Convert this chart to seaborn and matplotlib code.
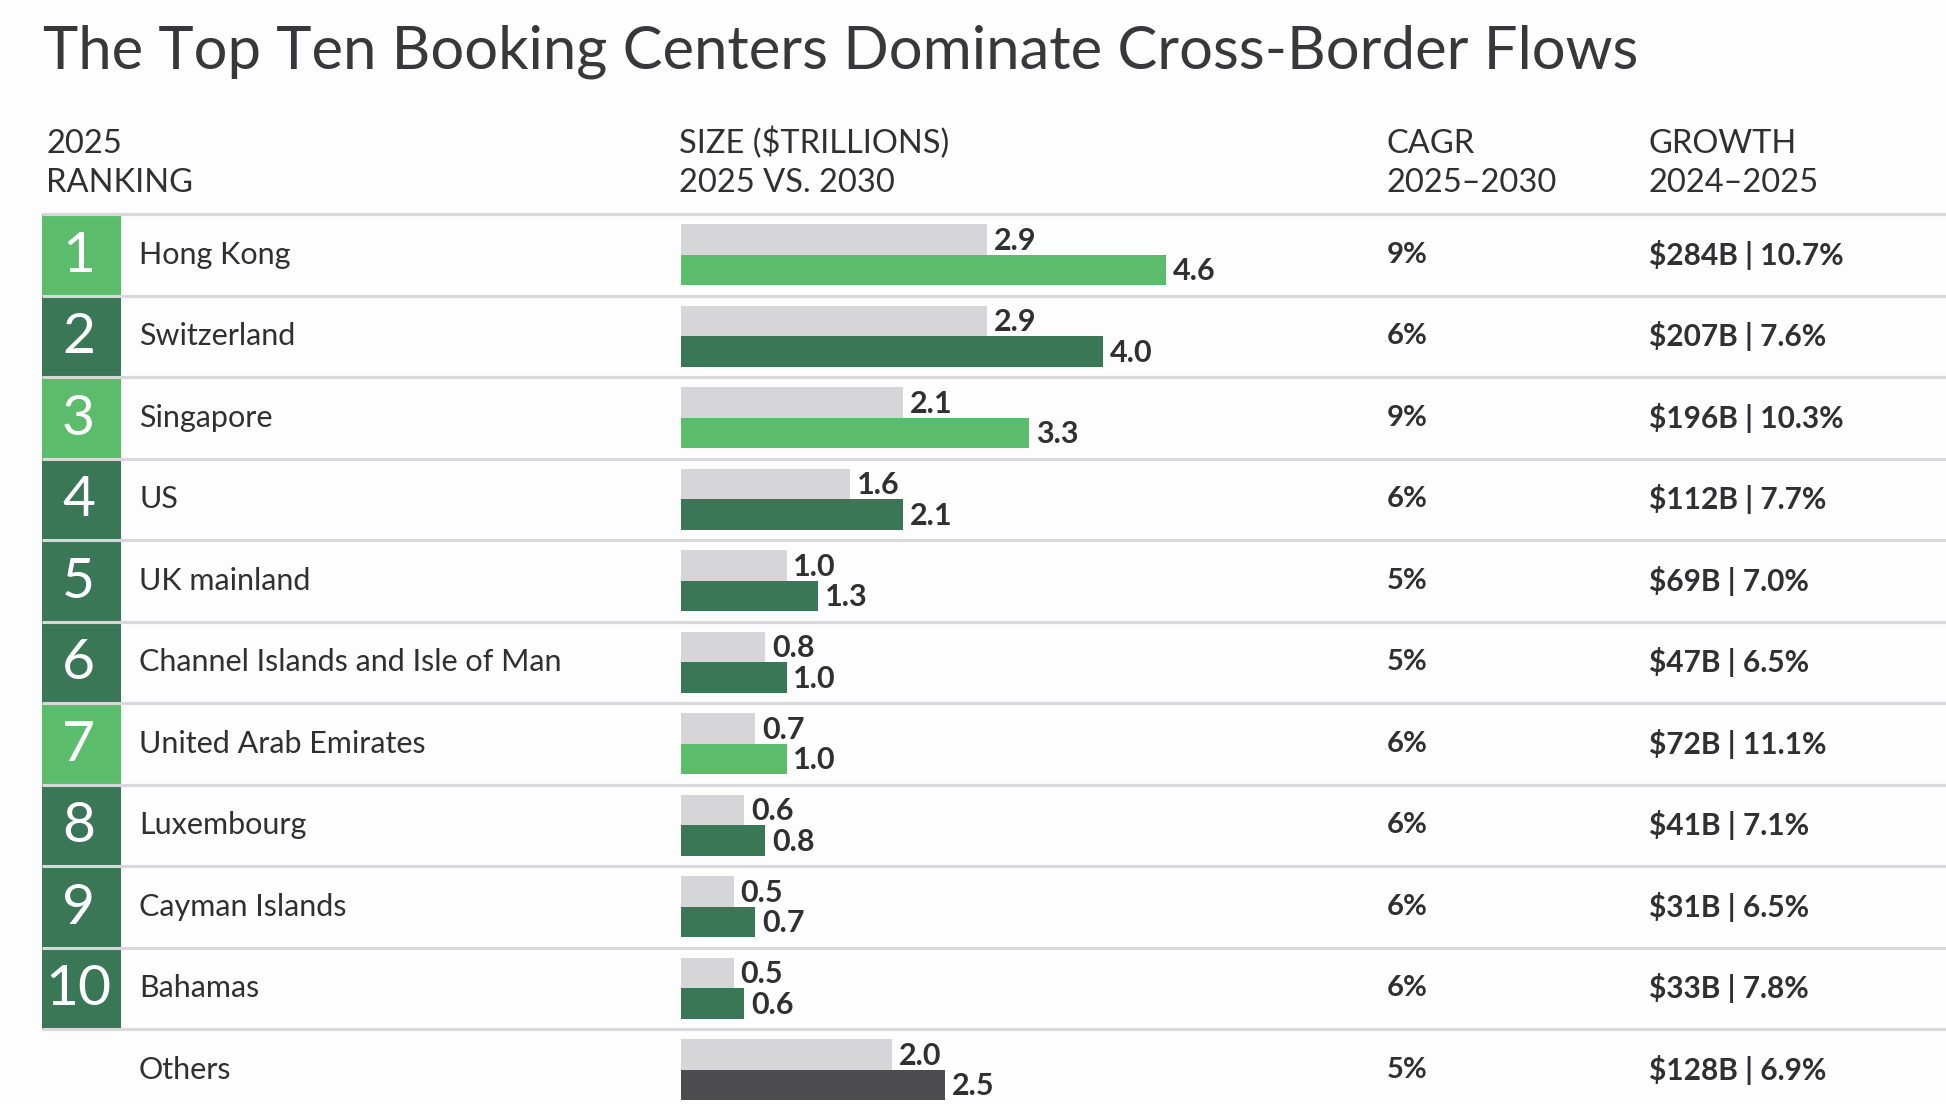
import matplotlib
matplotlib.use("Agg")
import matplotlib.pyplot as plt
import matplotlib.transforms as mtransforms
from matplotlib.patches import Rectangle
import seaborn as sns
import pandas as pd

# ---------------- data ----------------
centers = ["Hong Kong", "Switzerland", "Singapore", "US", "UK mainland",
           "Channel Islands and Isle of Man", "United Arab Emirates",
           "Luxembourg", "Cayman Islands", "Bahamas", "Others"]
ranks = ["1", "2", "3", "4", "5", "6", "7", "8", "9", "10", ""]
size_2025 = [2.9, 2.9, 2.1, 1.6, 1.0, 0.8, 0.7, 0.6, 0.5, 0.5, 2.0]
size_2030 = [4.6, 4.0, 3.3, 2.1, 1.3, 1.0, 1.0, 0.8, 0.7, 0.6, 2.5]
cagr = ["9%", "6%", "9%", "6%", "5%", "5%", "6%", "6%", "6%", "6%", "5%"]
growth_usd = ["$284B", "$207B", "$196B", "$112B", "$69B", "$47B",
              "$72B", "$41B", "$31B", "$33B", "$128B"]
growth_pct = ["10.7%", "7.6%", "10.3%", "7.7%", "7.0%", "6.5%",
              "11.1%", "7.1%", "6.5%", "7.8%", "6.9%"]
highlight = [True, False, True, False, False, False, True, False, False, False, None]
years = ["2025", "2030"]

title = "The Top Ten Booking Centers Dominate Cross-Border Flows"
headers = [(("2025", "RANKING"), "rank"),
           (("SIZE (\\$TRILLIONS)", "2025 VS. 2030"), "bar"),
           (("CAGR", "2025\u20132030"), "cagr"),
           (("GROWTH", "2024\u20132025"), "growth")]

# ---------------- style ----------------
LIGHT_GREEN = "#5bbd6b"
DARK_GREEN = "#3a7757"
GRAY_BAR = "#d6d5d8"
OTHERS_BAR = "#4c4b4f"
LINE = "#d8d8da"
TEXT = "#303033"
BG = "#fdfdfe"

sns.set_theme(style="white")
plt.rcParams["font.family"] = ["Lato", "DejaVu Sans"]

W, H = 1946, 1104
fig = plt.figure(figsize=(W / 100, H / 100), dpi=100, facecolor=BG)
ax = fig.add_axes([0, 0, 1, 1])
ax.set_facecolor(BG)

df = pd.DataFrame({
    "center": centers * 2,
    "year": [years[0]] * len(centers) + [years[1]] * len(centers),
    "size": size_2025 + size_2030,
})
sns.barplot(data=df, y="center", x="size", hue="year", order=centers,
            hue_order=years, palette=[GRAY_BAR, LIGHT_GREEN], width=0.75,
            orient="h", saturation=1, legend=False, ax=ax, linewidth=0)

bar_colors = [LIGHT_GREEN if h else (OTHERS_BAR if h is None else DARK_GREEN)
              for h in highlight]
for patch, c in zip(ax.containers[1], bar_colors):
    patch.set_facecolor(c)

# pixel layout -> data limits
x0_px, px_per_unit = 681, 105.5
row0_px, row_px = 254.75, 81.5
ax.set_xlim(-x0_px / px_per_unit, (W - x0_px) / px_per_unit)
ax.set_ylim((H - row0_px) / row_px, -row0_px / row_px)
ax.set_axis_off()

bt = mtransforms.blended_transform_factory(ax.transAxes, ax.transData)
col = {"rank": 46 / W, "box_l": 42 / W, "box_r": 121 / W, "name": 139 / W,
       "bar": 679 / W, "cagr": 1387 / W, "growth": 1649 / W}

# value labels
for cont in ax.containers:
    for patch in cont:
        v = patch.get_width()
        ax.annotate(f"{v:.1f}", (v, patch.get_y() + patch.get_height() / 2),
                    xytext=(5, -1), textcoords="offset points", ha="left",
                    va="center", fontsize=22, fontweight="bold", color=TEXT)

# rank boxes, names, cagr, growth
for i, name in enumerate(centers):
    if highlight[i] is not None:
        fc = LIGHT_GREEN if highlight[i] else DARK_GREEN
        ax.add_patch(Rectangle((col["box_l"], i - 0.5), col["box_r"] - col["box_l"], 1.0,
                               transform=bt, facecolor=fc, edgecolor="none", zorder=1))
        ax.text(78.5 / W, i + 0.02, ranks[i], transform=bt,
                ha="center", va="center", fontsize=41, fontweight="normal",
                color="white", zorder=3)
    ax.text(col["name"], i, name, transform=bt, ha="left", va="center",
            fontsize=22, color=TEXT)
    ax.text(col["cagr"], i, cagr[i], transform=bt, ha="left", va="center",
            fontsize=21, fontweight="bold", color=TEXT)
    ax.text(col["growth"], i, f"\\{growth_usd[i]} | {growth_pct[i]}", transform=bt,
            ha="left", va="center", fontsize=21.5, fontweight="bold", color=TEXT)

# separators
for k in range(len(centers)):
    ax.plot([col["box_l"], 1.0], [k - 0.5, k - 0.5], transform=bt,
            color=LINE, lw=2.2, solid_capstyle="butt", zorder=2)

# headers
for (l1, l2), key in headers:
    x = col[key]
    ax.text(x, -1.248, l1, transform=bt, ha="left", va="baseline",
            fontsize=23.5, color=TEXT)
    ax.text(x, -0.775, l2, transform=bt, ha="left", va="baseline",
            fontsize=23.5, color=TEXT)

# title
ax.text(43 / W, -2.29, title, transform=bt, ha="left", va="baseline",
        fontsize=43, fontweight="normal", color="#38383b")

fig.savefig("out.png", dpi=100, facecolor=BG)
